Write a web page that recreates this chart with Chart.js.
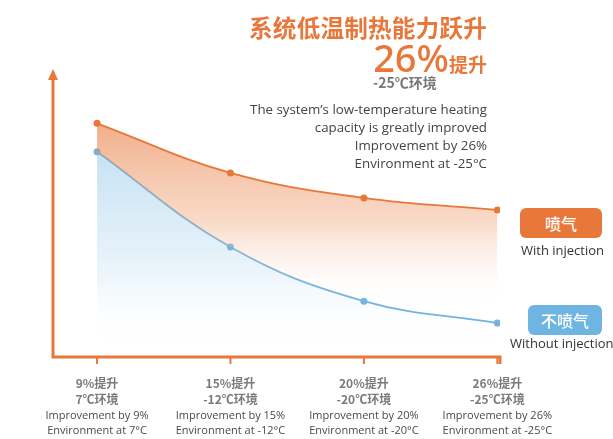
<!DOCTYPE html>
<html>
<head>
<meta charset="utf-8">
<script src="https://cdn.jsdelivr.net/npm/chart.js@4/dist/chart.umd.min.js"></script>
<style>
  html, body { margin: 0; padding: 0; background: #fff; }
  #wrap { position: relative; width: 613px; height: 439px; overflow: hidden; font-family: "Open Sans", "Noto Sans", sans-serif; }
  #chart { position: absolute; left: 0; top: 0; }
  .txt { position: absolute; white-space: nowrap; }
  .title { right: 126px; top: 10px; font: 700 23.6px "Noto Sans CJK SC", sans-serif; color: #e8773a; letter-spacing: 0.2px; }
  .big { right: 126px; top: 31px; color: #e8773a; font: 500 38px "Noto Sans", sans-serif; }
  .big span { font: 700 19px "Noto Sans CJK SC", sans-serif; }
  .env { left: 373px; top: 72px; font: 700 14px "Noto Sans CJK SC", sans-serif; color: #777; }
  .desc { right: 126px; top: 100px; text-align: right; font: 13.3px "Open Sans", sans-serif; color: #444; line-height: 18px; }
  .badge { position: absolute; border-radius: 6px; color: #fff; text-align: center; font: 500 16px "Noto Sans CJK SC", sans-serif; }
  .leg { font: 13px "Open Sans", sans-serif; color: #333; }
</style>
</head>
<body>
<div id="wrap">
  <canvas id="chart" width="613" height="439"></canvas>
  <div class="txt title">系统低温制热能力跃升</div>
  <div class="txt big">26%<span>提升</span></div>
  <div class="txt env">-25℃环境</div>
  <div class="txt desc">The system’s low-temperature heating<br>capacity is greatly improved<br>Improvement by 26%<br>Environment at -25°C</div>
  <div class="badge" style="left:520px;top:208px;width:82px;height:30px;line-height:30px;background:#e8773a;">喷气</div>
  <div class="txt leg" style="left:521px;top:241px;">With injection</div>
  <div class="badge" style="left:528px;top:305px;width:74px;height:30px;line-height:30px;background:#6fb5e2;">不喷气</div>
  <div class="txt leg" style="left:510px;top:334px;">Without injection</div>
</div>
<script>
// Heating capacity, with and without vapour injection, at four outdoor temperatures
const positions = [0, 1, 2, 3];
const withInjection = [82, 64.6, 55.8, 51.6];
const withoutInjection = [72, 38.6, 19.6, 11.9];
const gainLabels = ['9%提升', '15%提升', '20%提升', '26%提升'];
const envLabels = ['7℃环境', '-12℃环境', '-20℃环境', '-25℃环境'];
const gainLabelsEn = ['Improvement by 9%', 'Improvement by 15%', 'Improvement by 20%', 'Improvement by 26%'];
const envLabelsEn = ['Environment at 7°C', 'Environment at -12°C', 'Environment at -20°C', 'Environment at -25°C'];

const ORANGE = '#e8773a';
const BLUE = '#74b3de';

const toPoints = values => values.map((v, i) => ({ x: positions[i], y: v }));

function orangeFill(ctx) {
    const area = ctx.chart.chartArea;
    if (!area) return 'rgba(232,119,58,0.3)';
    const g = ctx.chart.ctx.createLinearGradient(0, area.top + 50, 0, area.top + 235);
    g.addColorStop(0, 'rgba(232,119,58,0.6)');
    g.addColorStop(0.55, 'rgba(240,165,120,0.4)');
    g.addColorStop(1, 'rgba(255,255,255,0)');
    return g;
}

function blueFill(ctx) {
    const area = ctx.chart.chartArea;
    if (!area) return 'rgba(116,179,222,0.3)';
    const g = ctx.chart.ctx.createLinearGradient(0, area.top + 75, 0, area.bottom - 10);
    g.addColorStop(0, 'rgba(150,200,232,0.55)');
    g.addColorStop(0.6, 'rgba(210,232,246,0.5)');
    g.addColorStop(1, 'rgba(255,255,255,0)');
    return g;
}

// Axis lines, arrow, ticks and the bilingual category labels
const axisPlugin = {
    id: 'axisPlugin',
    afterDraw(chart) {
        const { ctx, chartArea: a, scales } = chart;
        ctx.save();
        ctx.strokeStyle = ORANGE;
        ctx.fillStyle = ORANGE;
        ctx.lineWidth = 3;
        ctx.beginPath();
        ctx.moveTo(a.left, a.top + 6);
        ctx.lineTo(a.left, a.bottom);
        ctx.lineTo(a.right, a.bottom);
        ctx.lineTo(a.right, a.bottom + 7);
        ctx.stroke();
        ctx.beginPath();
        ctx.moveTo(a.left, a.top - 3);
        ctx.lineTo(a.left - 5, a.top + 8);
        ctx.lineTo(a.left + 5, a.top + 8);
        ctx.closePath();
        ctx.fill();

        ctx.lineWidth = 2;
        ctx.textAlign = 'center';
        ctx.textBaseline = 'middle';
        positions.forEach((p, i) => {
            const x = scales.x.getPixelForValue(p);
            ctx.beginPath();
            ctx.moveTo(x, a.bottom);
            ctx.lineTo(x, a.bottom + 7);
            ctx.stroke();
            ctx.fillStyle = '#7a7a7a';
            ctx.font = '700 12px "Noto Sans CJK SC", sans-serif';
            ctx.fillText(gainLabels[i], x, a.bottom + 26);
            ctx.fillText(envLabels[i], x, a.bottom + 42);
            ctx.fillStyle = '#4a4a4a';
            ctx.font = '11px "Open Sans", sans-serif';
            ctx.fillText(gainLabelsEn[i], x, a.bottom + 59);
            ctx.fillText(envLabelsEn[i], x, a.bottom + 74);
        });
        ctx.restore();
    }
};

new Chart(document.getElementById('chart'), {
    type: 'line',
    data: {
        datasets: [
            {
                label: 'With injection',
                data: toPoints(withInjection),
                borderColor: ORANGE,
                borderWidth: 1.8,
                pointBackgroundColor: ORANGE,
                pointBorderWidth: 0,
                pointRadius: 3.5,
                tension: 0.4,
                fill: '+1',
                backgroundColor: orangeFill
            },
            {
                label: 'Without injection',
                data: toPoints(withoutInjection),
                borderColor: BLUE,
                borderWidth: 1.8,
                pointBackgroundColor: BLUE,
                pointBorderWidth: 0,
                pointRadius: 3.5,
                tension: 0.4,
                fill: 'origin',
                backgroundColor: blueFill
            }
        ]
    },
    options: {
        responsive: false,
        animation: false,
        layout: { padding: { left: 53, right: 113, top: 72, bottom: 82 } },
        plugins: { legend: { display: false }, tooltip: { enabled: false } },
        scales: {
            x: { type: 'linear', min: -0.33, max: 3.02, display: false },
            y: { min: 0, max: 100, display: false }
        }
    },
    plugins: [axisPlugin]
});
</script>
</body>
</html>
